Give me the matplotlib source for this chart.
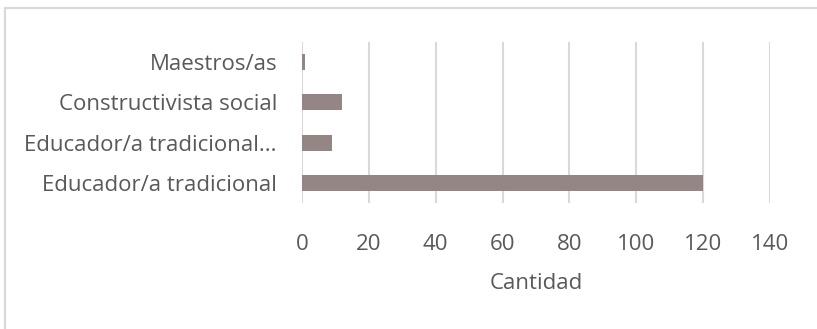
import matplotlib.pyplot as plt
from matplotlib.patches import Rectangle

# Respuestas por perfil docente
categorias = ["Educador/a tradicional", "Educador/a tradicional...",
              "Constructivista social", "Maestros/as"]
cantidades = [120, 9, 12, 1]
ticks_x = [0, 20, 40, 60, 80, 100, 120, 140]

gris_texto = "#595959"
gris_linea = "#d9d9d9"
color_barra = "#938684"

plt.rcParams['font.family'] = ['Open Sans', 'DejaVu Sans']

fig = plt.figure(figsize=(8.17, 3.29), dpi=100)
# marco del grafico
fig.patches.append(Rectangle((5 / 817, -0.1), 1.2, 1 - 8 / 329 + 0.1,
                             transform=fig.transFigure, fill=False,
                             edgecolor=gris_linea, linewidth=1.6))

ax = fig.add_axes([302 / 817, 1 - 203 / 329, (770 - 302) / 817, (203 - 42) / 329])
ax.barh(range(len(categorias)), cantidades, height=0.4, color=color_barra)

ax.set_xlim(0, 140)
ax.set_ylim(-0.5, len(categorias) - 0.5)
ax.set_xticks(ticks_x)
ax.set_yticks(range(len(categorias)))
ax.set_yticklabels(categorias)
ax.grid(axis='x', color=gris_linea, linewidth=1.5)
ax.set_axisbelow(True)
for s in ax.spines.values():
    s.set_visible(False)
ax.tick_params(axis='x', length=0, pad=22, labelsize=16, labelcolor=gris_texto)
ax.tick_params(axis='y', length=0, pad=18, labelsize=16, labelcolor=gris_texto)
ax.set_xlabel("Cantidad", fontsize=16, color=gris_texto, labelpad=13)

fig.savefig("out.png", dpi=100)
